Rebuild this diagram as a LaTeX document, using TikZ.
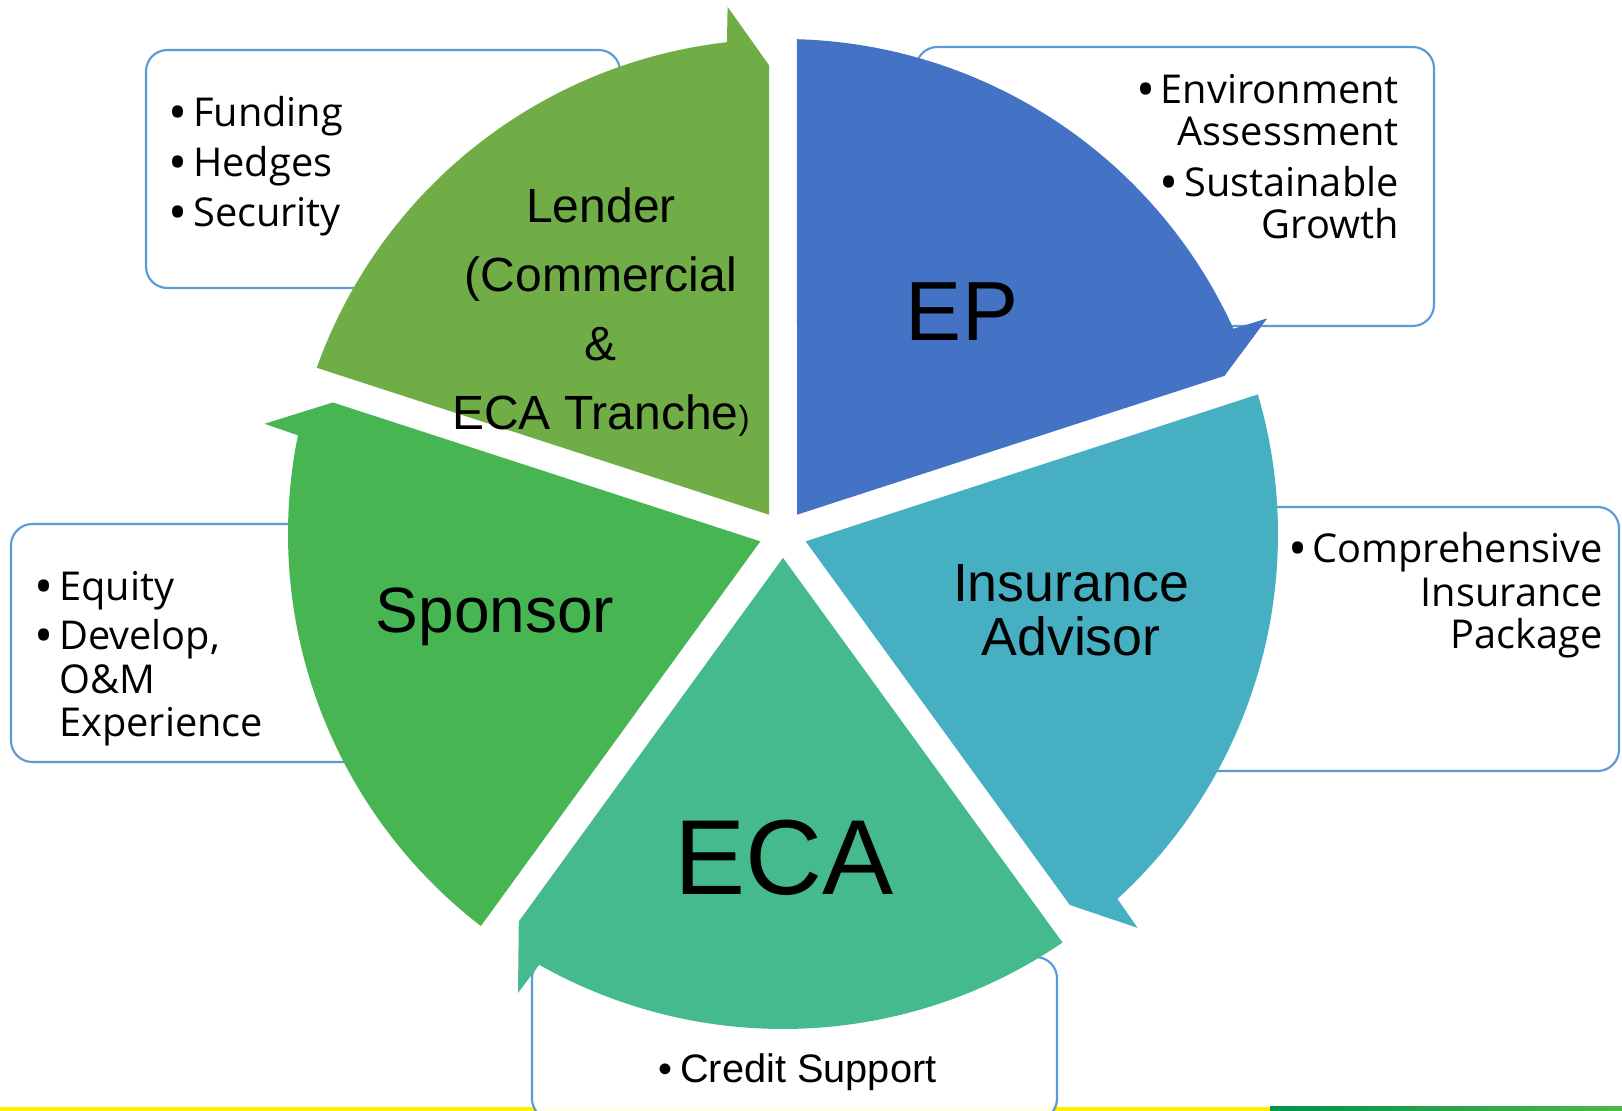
\documentclass[tikz,border=0pt]{standalone}
\usepackage{fontspec}
\setmainfont{Liberation Sans}
\newfontfamily\listfont{Open Sans}
\usepackage{tikz}
\usetikzlibrary{positioning}
\usepackage{xcolor}
\definecolor{lendergreen}{HTML}{70AD47}
\definecolor{epblue}{HTML}{4472C4}
\definecolor{insteal}{HTML}{46AFC2}
\definecolor{ecagreen}{HTML}{45BB8D}
\definecolor{sponsorgreen}{HTML}{48B553}
\definecolor{boxline}{HTML}{5B9BD5}
\definecolor{baryellow}{HTML}{FFF100}
\definecolor{bargreen}{HTML}{00914A}
\definecolor{barlight}{HTML}{4DB849}
\newcommand\cyclepiece[2]{
  \pgfmathsetmacro\pa{#1-1.62}
  \pgfmathsetmacro\pb{#1-65.5}
  \pgfmathsetmacro\pt{#1-66}
  \pgfmathsetmacro\pe{#1-70.29}
  \pgfmathsetmacro\pv{#1-36}
  \fill[#2, shift={(783,577)}] (\pv:23.82) -- (\pa:495) arc[start angle=\pa, end angle=\pb, radius=495] -- (\pt:530) -- (\pe:469) -- cycle;
}
\newcommand\bul{{\fontsize{38}{38}\selectfont\raisebox{-3pt}{\textbullet}}}

\begin{document}
\begin{tikzpicture}[x=0.75pt, y=0.75pt,
	callout/.style={draw=boxline, line width=1.6pt, fill=white, rounded corners=16pt},
	listtext/.style={font=\listfont\fontsize{29.8}{32}\selectfont, inner sep=0pt},
	segtext/.style={inner sep=0pt, align=center}]
	\useasboundingbox (0,0) rectangle (1622,1111);
	\fill[baryellow] (0,0) rectangle (1270,4);
	\fill[left color=bargreen, right color=barlight] (1270,0) rectangle (1622,4);
	\draw[callout] (146,823) rectangle (620,1061);
	\draw[callout] (916,785) rectangle (1434,1064);
	\draw[callout] (1150,340) rectangle (1619,604);
	\draw[callout] (11,349) rectangle (420,587);
	\draw[callout, fill opacity=0.9] (532,-9) rectangle (1057,154);
	\cyclepiece{162}{lendergreen}
	\cyclepiece{90}{epblue}
	\cyclepiece{18}{insteal}
	\cyclepiece{-54}{ecagreen}
	\cyclepiece{234}{sponsorgreen}
	\node[segtext, font=\fontsize{36}{51.75}\selectfont] (lender) at (601,799) {Lender\\(Commercial\\\&\\ECA Tranche{\fontsize{25}{25}\selectfont)}};
	\node[segtext, anchor=base, font=\fontsize{63}{63}\selectfont] (ep) at (962,770) {EP};
	\node[segtext, font=\fontsize{40.3}{40.3}\selectfont] (insurance) at (1071,501) {Insurance\\Advisor};
	\node[segtext, anchor=base, font=\fontsize{80}{80}\selectfont] (eca) at (784,216) {ECA};
	\node[segtext, anchor=base, font=\fontsize{48}{48}\selectfont] (sponsor) at (495,478) {Sponsor};
	\node[listtext, anchor=base west] (funding) at (193,984) {\llap{\bul\hspace{4pt}}Funding};
	\node[listtext, anchor=base west] (hedges) at (193,934) {\llap{\bul\hspace{4pt}}Hedges};
	\node[listtext, anchor=base west] (security) at (193,884) {\llap{\bul\hspace{4pt}}Security};
	\node[listtext, anchor=base east] (environment) at (1399,1007) {\bul\hspace{4pt}Environment};
	\node[listtext, anchor=base east] (assessment) at (1399,965) {Assessment};
	\node[listtext, anchor=base east] (sustainable) at (1399,914) {\bul\hspace{4pt}Sustainable};
	\node[listtext, anchor=base east] (growth) at (1399,872) {Growth};
	\node[listtext, anchor=base east] (comprehensive) at (1603,548) {\bul\hspace{4pt}Comprehensive};
	\node[listtext, anchor=base east] (insurancepkg) at (1603,504) {Insurance};
	\node[listtext, anchor=base east] (package) at (1603,462) {Package};
	\node[listtext, anchor=base west] (equity) at (59,510) {\llap{\bul\hspace{4pt}}Equity};
	\node[listtext, anchor=base west] (develop) at (59,461) {\llap{\bul\hspace{4pt}}Develop,};
	\node[listtext, anchor=base west] (om) at (59,417) {O\&M};
	\node[listtext, anchor=base west] (experience) at (59,374) {Experience};
	\node[inner sep=0pt, anchor=base west, font=\fontsize{29.8}{32}\selectfont] (credit) at (680,28) {\llap{\textbullet\hspace{6pt}}Credit Support};
\end{tikzpicture}
\end{document}
